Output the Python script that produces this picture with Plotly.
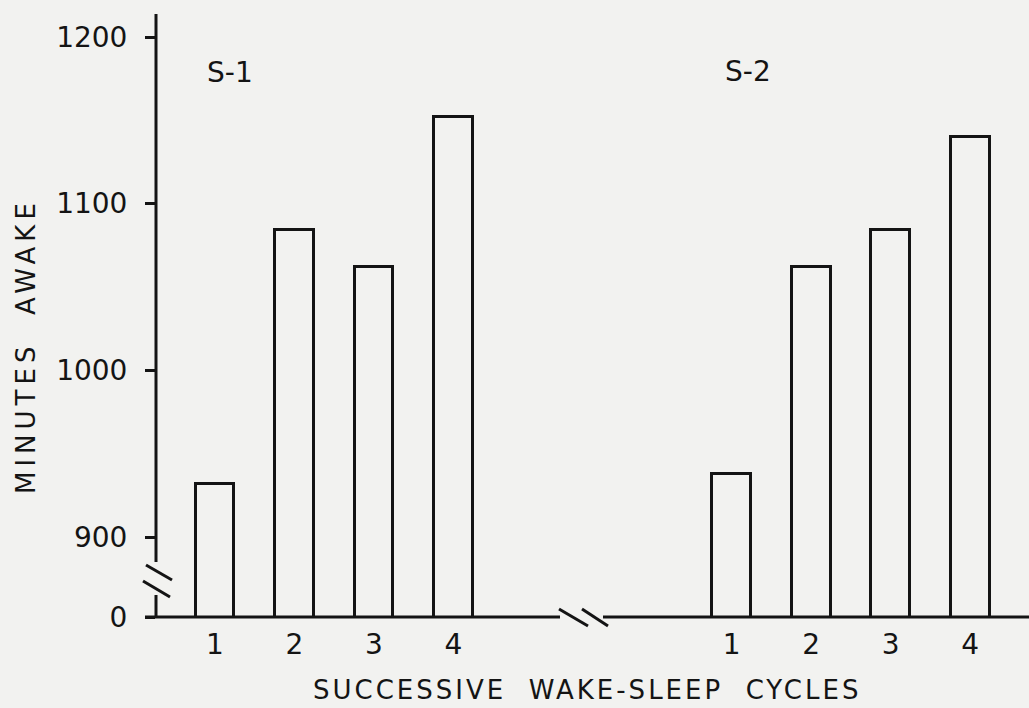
import plotly.graph_objects as go

# ---- data ----
cycles = [1, 2, 3, 4]
cycle_labels = ["1", "2", "3", "4"]
s1_minutes = [932, 1084, 1062, 1152]
s2_minutes = [938, 1062, 1084, 1140]
group_offset = 6.5          # horizontal gap between S-1 and S-2 groups (axis break)
y_tick_vals = [852, 900, 1000, 1100, 1200]
y_tick_text = ["0", "900", "1000", "1100", "1200"]
y_range = [852, 1213.8]
x_range = [0.258, 11.24]

s1_x = cycles
s2_x = [c + group_offset for c in cycles]

W, H = 1029, 708
ML, MR, MT, MB = 156, 0, 14, 91
PW, PH = W - ML - MR, H - MT - MB

def px(x):
    return (x - ML) / PW

def py(y):
    return (H - MB - y) / PH

BG = "#f2f2f0"
INK = "#141414"
FONT = "DejaVu Sans"

fig = go.Figure()
bar_style = dict(marker=dict(color=BG, line=dict(color=INK, width=3)), width=0.49,
                 showlegend=False, hoverinfo="skip")
fig.add_trace(go.Bar(x=s1_x, y=s1_minutes, **bar_style))
fig.add_trace(go.Bar(x=s2_x, y=s2_minutes, **bar_style))

line = dict(color=INK, width=3)
shapes = [
    # y axis (with break)
    dict(type="line", xref="paper", yref="paper", x0=0, x1=0, y0=py(562), y1=1, line=line),
    dict(type="line", xref="paper", yref="paper", x0=0, x1=0, y0=py(595), y1=0, line=line),
    dict(type="line", xref="paper", yref="paper", x0=px(146), x1=px(172), y0=py(565), y1=py(580), line=line),
    dict(type="line", xref="paper", yref="paper", x0=px(143), x1=px(170), y0=py(581), y1=py(597), line=line),
    # x axis (with break)
    dict(type="line", xref="paper", yref="paper", x0=px(145), x1=px(560), y0=0, y1=0, line=line),
    dict(type="line", xref="paper", yref="paper", x0=px(603), x1=1.0, y0=0, y1=0, line=line),
    dict(type="line", xref="paper", yref="paper", x0=px(559), x1=px(588), y0=py(609), y1=py(626), line=line),
    dict(type="line", xref="paper", yref="paper", x0=px(582), x1=px(608), y0=py(609), y1=py(626), line=line),
]

annotations = [
    dict(text="S-1", x=px(205), y=py(72), xref="paper", yref="paper", xanchor="left",
         yanchor="middle", showarrow=False, font=dict(size=28, color=INK, family=FONT)),
    dict(text="S-2", x=px(723), y=py(71), xref="paper", yref="paper", xanchor="left",
         yanchor="middle", showarrow=False, font=dict(size=28, color=INK, family=FONT)),
    dict(text='<span style="letter-spacing:3px">SUCCESSIVE&nbsp; WAKE-SLEEP&nbsp; CYCLES</span>',
         x=px(587), y=py(690), xref="paper", yref="paper", xanchor="center",
         yanchor="middle", showarrow=False, font=dict(size=26, color=INK, family=FONT)),
    dict(text='<span style="letter-spacing:5px">MINUTES&nbsp; AWAKE</span>',
         x=px(26), y=py(346), xref="paper", yref="paper", xanchor="center",
         yanchor="middle", textangle=-90, showarrow=False,
         font=dict(size=26, color=INK, family=FONT)),
]

fig.update_layout(
    width=W, height=H,
    margin=dict(l=ML, r=MR, t=MT, b=MB),
    paper_bgcolor=BG, plot_bgcolor=BG,
    font=dict(family=FONT, color=INK, size=28),
    shapes=shapes, annotations=annotations,
    bargap=0,
)
fig.update_xaxes(range=x_range, tickmode="array", tickvals=s1_x + s2_x,
                 ticktext=cycle_labels + cycle_labels, showline=False, showgrid=False,
                 zeroline=False, ticks="", ticklabelstandoff=8,
                 tickfont=dict(size=28, color=INK, family=FONT))
fig.update_yaxes(range=y_range, tickmode="array", tickvals=y_tick_vals, ticktext=y_tick_text,
                 showline=False, showgrid=False, zeroline=False, ticks="outside",
                 ticklen=10, tickwidth=3, tickcolor=INK, ticklabelstandoff=12,
                 tickfont=dict(size=28, color=INK, family=FONT))

fig.write_html(
    "out.html",
    config={"displayModeBar": False},
    post_script="document.body.style.margin='0';document.body.style.background='%s';" % BG,
)
